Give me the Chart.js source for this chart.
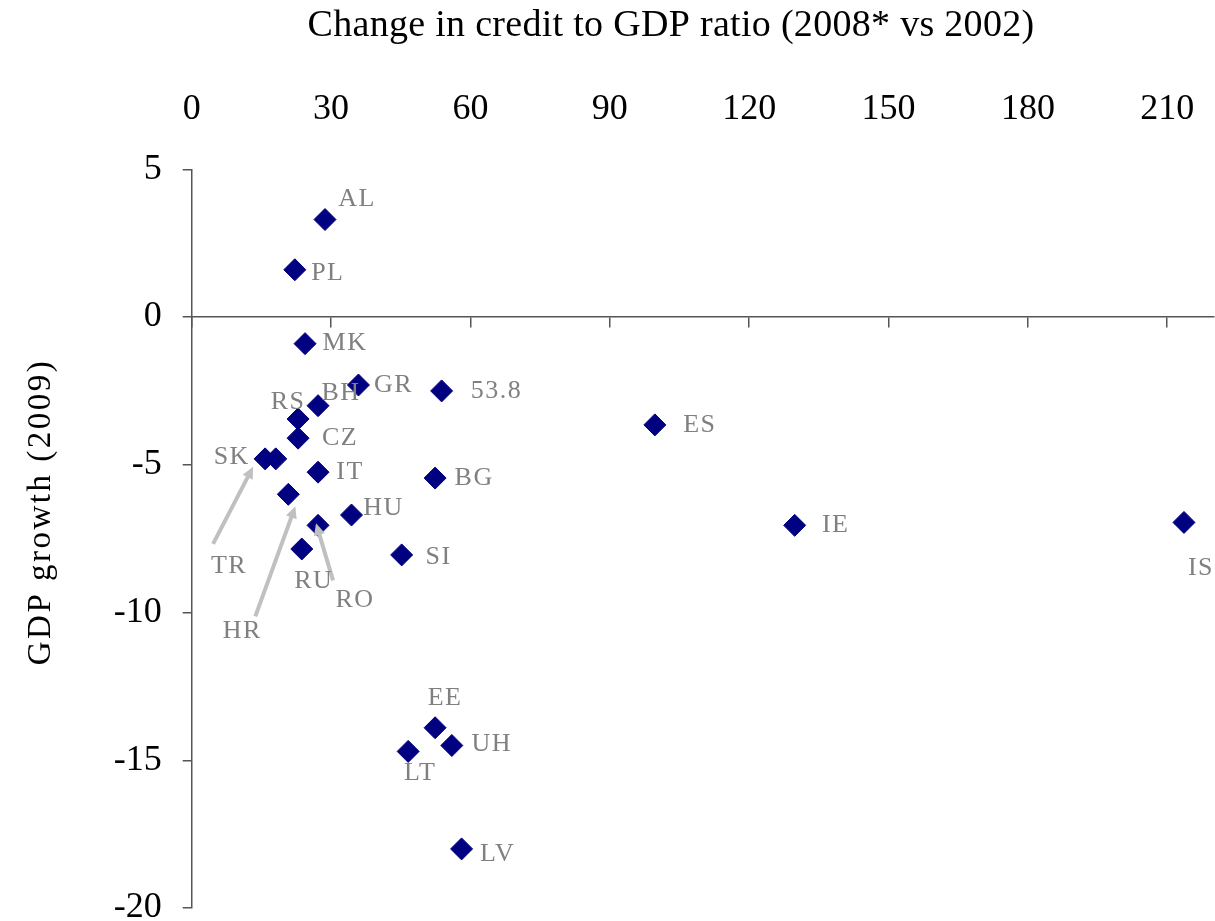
<!DOCTYPE html>
<html>
<head>
<meta charset="utf-8">
<script src="https://cdn.jsdelivr.net/npm/chart.js"></script>
<style>
  body { margin: 0; background: #fff; }
  #wrap { width: 1215px; height: 921px; }
</style>
</head>
<body>
<div id="wrap"><canvas id="chart"></canvas></div>
<script>
var countries    = ['AL', 'PL', 'MK', 'GR', '53.8', 'BH', 'RS', 'CZ', 'SK', 'TR', 'IT', 'BG',
                    'HR', 'HU', 'RO', 'RU', 'SI', 'ES', 'IE', 'IS', 'EE', 'UH', 'LT', 'LV'];
var creditChange = [28.7, 22.2, 24.4, 35.9, 53.8, 27.2, 22.9, 22.9, 18.1, 15.8, 27.2, 52.4,
                    20.8, 34.4, 27.2, 23.7, 45.2, 99.7, 129.8, 213.6, 52.4, 56.0, 46.6, 58.1];
var gdpGrowth    = [3.3, 1.6, -0.9, -2.3, -2.5, -3.0, -3.45, -4.1, -4.8, -4.8, -5.25, -5.45,
                    -6.0, -6.7, -7.05, -7.85, -8.05, -3.65, -7.05, -6.95, -13.9, -14.5, -14.7, -18.0];
var xTicks = [0, 30, 60, 90, 120, 150, 180, 210];
var yTicks = [5, 0, -5, -10, -15, -20];
var xTitle = 'Change in credit to GDP ratio (2008* vs 2002)';
var yTitle = 'GDP growth (2009)';

// where each name sits, px from its marker (text centre)
var labelOffset = {
  'AL': [32, -20], 'PL': [33, 3], 'MK': [40, 0], 'GR': [35, 0], '53.8': [55, 0],
  'BH': [23, -13], 'RS': [-10, -17], 'CZ': [42, 0], 'SK': [-44, -2], 'TR': [-36, 107],
  'IT': [32, 0], 'BG': [39, 0], 'HR': [-46, 137], 'HU': [32, -7], 'RO': [37, 75],
  'RU': [12, 32], 'SI': [37, 2], 'ES': [45, 0], 'IE': [41, 0], 'IS': [17, 46],
  'EE': [10, -30], 'UH': [40, -1], 'LT': [12, 22], 'LV': [36, 5]
};
// grey arrows: tail x,y and tip x,y, px from the marker
var arrows = {
  'TR': [-52, 85, -12, 8],
  'HR': [-33, 122, 7, 12],
  'RO': [15, 55, -2, -2]
};

var serif = "'Liberation Serif', 'Times New Roman', serif";

function setTicks(list) {
  return function(scale) {
    scale.ticks = list.map(function(v) { return { value: v }; });
  };
}

var textPlugin = {
  id: 'textPlugin',
  afterDatasetsDraw: function(chart) {
    var ctx = chart.ctx;
    var meta = chart.getDatasetMeta(0);
    ctx.save();

    // arrows
    ctx.strokeStyle = '#c0c0c0';
    ctx.fillStyle = '#c0c0c0';
    ctx.lineWidth = 4;
    Object.keys(arrows).forEach(function(name) {
      var p = meta.data[countries.indexOf(name)];
      var a = arrows[name];
      var x1 = p.x + a[0], y1 = p.y + a[1], x2 = p.x + a[2], y2 = p.y + a[3];
      var ang = Math.atan2(y2 - y1, x2 - x1);
      var head = 13;
      ctx.beginPath();
      ctx.moveTo(x1, y1);
      ctx.lineTo(x2 - head * 0.7 * Math.cos(ang), y2 - head * 0.7 * Math.sin(ang));
      ctx.stroke();
      ctx.beginPath();
      ctx.moveTo(x2, y2);
      ctx.lineTo(x2 - head * Math.cos(ang - 0.45), y2 - head * Math.sin(ang - 0.45));
      ctx.lineTo(x2 - head * Math.cos(ang + 0.45), y2 - head * Math.sin(ang + 0.45));
      ctx.closePath();
      ctx.fill();
    });

    // point names
    ctx.fillStyle = '#808080';
    ctx.font = '26px ' + serif;
    ctx.letterSpacing = '1.5px';
    ctx.textAlign = 'center';
    ctx.textBaseline = 'middle';
    countries.forEach(function(name, i) {
      var p = meta.data[i];
      var o = labelOffset[name] || [30, 0];
      ctx.fillText(name, p.x + o[0], p.y + o[1]);
    });
    ctx.restore();
  },
  afterDraw: function(chart) {
    var ctx = chart.ctx;
    ctx.save();
    ctx.fillStyle = '#000';
    ctx.textAlign = 'center';
    ctx.textBaseline = 'alphabetic';
    ctx.font = '38px ' + serif;
    ctx.letterSpacing = '0.3px';
    ctx.fillText(xTitle, 671, 36);
    ctx.translate(50, 512);
    ctx.rotate(-Math.PI / 2);
    ctx.font = '33px ' + serif;
    ctx.letterSpacing = '2.5px';
    ctx.fillText(yTitle, 0, 0);
    ctx.restore();
  }
};

var points = creditChange.map(function(v, i) { return { x: v, y: gdpGrowth[i] }; });

var chart = new Chart(document.getElementById('chart'), {
  type: 'scatter',
  data: {
    datasets: [{
      label: 'countries',
      data: points,
      pointStyle: 'rectRot',
      pointRadius: 11,
      pointHoverRadius: 11,
      backgroundColor: '#000080',
      borderColor: '#000080',
      borderWidth: 1
    }]
  },
  options: {
    responsive: true,
    maintainAspectRatio: false,
    animation: false,
    layout: { autoPadding: false, padding: { top: 88.4, left: 113.7, right: 1.3, bottom: 13 } },
    plugins: { legend: { display: false }, tooltip: { enabled: false } },
    scales: {
      // labels along the top
      x: {
        type: 'linear',
        position: 'top',
        min: 0,
        max: 220,
        afterBuildTicks: setTicks(xTicks),
        afterFit: function(scale) { scale.paddingLeft = 0; scale.paddingRight = 0; },
        ticks: { color: '#000', padding: 0, maxRotation: 0, font: { family: serif, size: 36 } },
        grid: { display: false, drawTicks: true, tickLength: 37.7 },
        border: { display: false }
      },
      // the line at zero with its tick marks
      x0: {
        type: 'linear',
        axis: 'x',
        position: { y: 0 },
        min: 0,
        max: 220,
        afterBuildTicks: setTicks(xTicks),
        ticks: { display: false },
        grid: { drawOnChartArea: false, drawTicks: true, tickLength: 10, color: '#555', lineWidth: 1.5 },
        border: { color: '#555', width: 1.5 }
      },
      y: {
        type: 'linear',
        position: 'left',
        weight: 0,
        min: -20,
        max: 5,
        afterBuildTicks: setTicks(yTicks),
        ticks: { display: false },
        grid: { drawOnChartArea: false, drawTicks: true, tickLength: 9, color: '#555', lineWidth: 1.5 },
        border: { color: '#555', width: 1.5 }
      },
      yLabels: {
        type: 'linear',
        axis: 'y',
        position: 'left',
        weight: 1,
        min: -20,
        max: 5,
        afterBuildTicks: setTicks(yTicks),
        ticks: { color: '#000', padding: 0, font: { family: serif, size: 36, lineHeight: 0.7 } },
        grid: { display: false, drawTicks: true, tickLength: 21 },
        border: { display: false }
      }
    }
  },
  plugins: [textPlugin]
});
</script>
</body>
</html>
